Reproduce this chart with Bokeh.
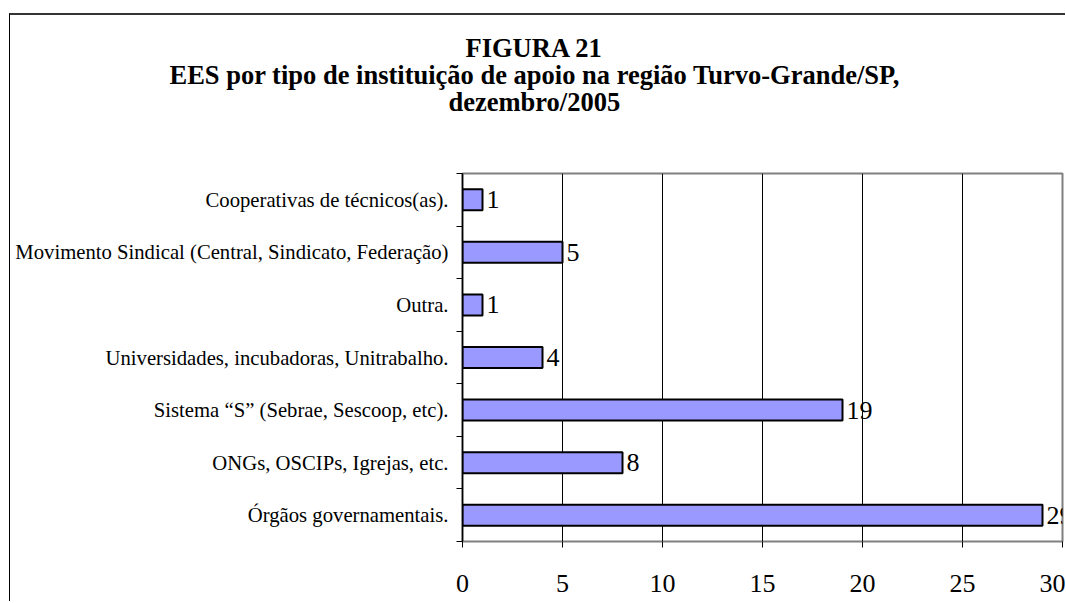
from bokeh.plotting import figure
from bokeh.models import ColumnDataSource, FixedTicker, LabelSet, Title, Range1d
from bokeh.core.properties import value
from bokeh.embed import file_html
from bokeh.resources import INLINE

categories = [
    "Órgãos governamentais.",
    "ONGs, OSCIPs, Igrejas, etc.",
    "Sistema “S” (Sebrae, Sescoop, etc).",
    "Universidades, incubadoras, Unitrabalho.",
    "Outra.",
    "Movimento Sindical (Central, Sindicato, Federação)",
    "Cooperativas de técnicos(as).",
]
values = [29, 8, 19, 4, 1, 5, 1]
x_ticks = [0, 5, 10, 15, 20, 25, 30]
title_lines = [
    "FIGURA 21",
    "EES por tipo de instituição de apoio na região Turvo-Grande/SP,",
    "dezembro/2005",
]

FONT = "Liberation Serif"

pos = [i + 0.5 for i in range(len(categories))]
src = ColumnDataSource(dict(cat=categories, val=values, pos=pos,
                            lbl=[str(v) for v in values]))

p = figure(width=1056, height=588, output_backend="svg", toolbar_location=None,
           x_range=Range1d(0, 30), y_range=Range1d(0, len(categories)),
           min_border_left=452, min_border_right=4, min_border_top=158,
           min_border_bottom=62)
p.title = None
p.styles = {"margin-left": "9px", "margin-top": "13px",
            "border-left": "1px solid #000000", "border-top": "2px solid #333333"}

# Bars
p.hbar(y="pos", right="val", left=0, height=0.4, fill_color="#9999FF",
       line_color="black", line_width=2, source=src)

# Value labels
p.add_layout(LabelSet(x="val", y="pos", text="lbl", x_offset=4,
                      text_baseline="middle", text_font=value(FONT),
                      text_font_size="26px", text_color="black", source=src))

# X axis
p.xaxis.ticker = FixedTicker(ticks=x_ticks)
p.xaxis.major_tick_out = 6
p.xaxis.major_tick_in = 0
p.xaxis.minor_tick_line_color = None
p.xaxis.major_label_standoff = 27
p.xaxis.major_label_text_font = FONT
p.xaxis.major_label_text_font_size = "26px"
p.xaxis.major_label_text_color = "black"
p.xaxis.axis_line_color = "#808080"
p.xaxis.major_tick_line_color = "black"

# Y axis: labels at band centres, ticks at band boundaries
p.yaxis.ticker = FixedTicker(ticks=pos, minor_ticks=list(range(len(categories) + 1)))
p.yaxis.major_label_overrides = {pp: c for pp, c in zip(pos, categories)}
p.yaxis.major_tick_out = 0
p.yaxis.major_tick_in = 0
p.yaxis.minor_tick_out = 6
p.yaxis.minor_tick_in = 0
p.yaxis.minor_tick_line_color = "black"
p.yaxis.major_label_standoff = 8
p.yaxis.major_label_text_font = FONT
p.yaxis.major_label_text_font_size = "20.7px"
p.yaxis.major_label_text_color = "black"
p.yaxis.axis_line_color = "black"
p.yaxis.axis_line_width = 1.5

# Grid
p.xgrid.ticker = FixedTicker(ticks=x_ticks)
p.xgrid.grid_line_color = "black"
p.xgrid.grid_line_width = 1
p.ygrid.visible = False

p.outline_line_color = "#808080"
p.outline_line_width = 2
p.background_fill_color = "white"
p.border_fill_color = "white"

# Spacer between the title block and the plot area
p.add_layout(Title(text=" ", text_font_size="1px", standoff=56), "above")

# Title lines (innermost first)
offsets = [3, -293, -14]
for txt, off in list(zip(title_lines, offsets))[::-1]:
    p.add_layout(Title(text=txt, align="left", offset=off, standoff=-5.5,
                       text_font=FONT, text_font_style="bold",
                       text_font_size="26.5px", text_color="black"), "above")

open("out.html", "w").write(file_html(p, INLINE))
